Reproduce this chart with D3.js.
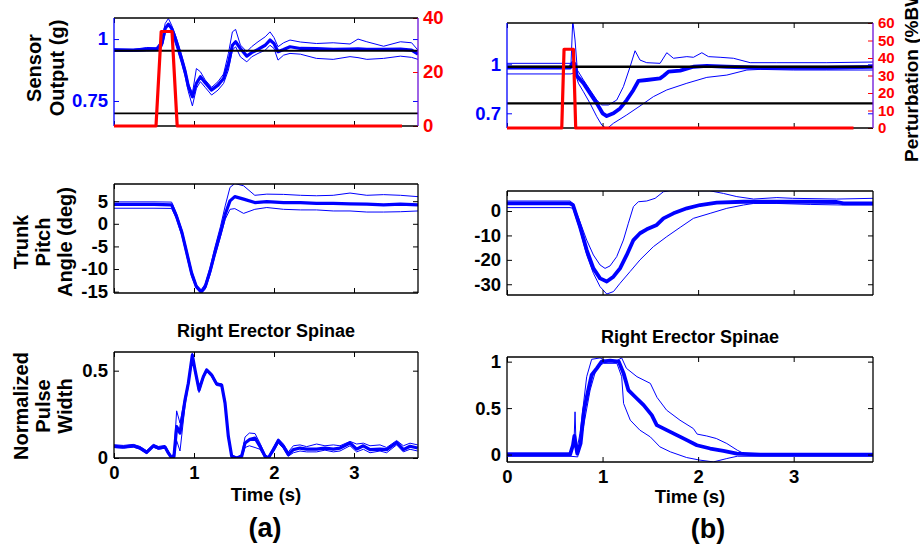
<!DOCTYPE html>
<html>
<head>
<meta charset="utf-8">
<script src="https://cdn.jsdelivr.net/npm/d3@7"></script>
<style>
  body { margin: 0; background: #fff; }
  svg { display: block; font-family: "Liberation Sans", Arial, sans-serif; font-weight: bold; }
</style>
</head>
<body>
<svg id="fig" width="920" height="547"></svg>
<script>
/* ---- data ---- */
const xTicks = [0, 1, 2, 3];

// (a) sensor output, g
const a1Time = [0, 0.24, 0.41, 0.53, 0.6, 0.64, 0.68, 0.72, 0.76, 0.8, 0.85, 0.89, 0.93, 0.98, 1.03, 1.08, 1.14, 1.22, 1.3, 1.37, 1.43, 1.48, 1.52, 1.58, 1.66, 1.72, 1.8, 1.89, 1.95, 2.0, 2.05, 2.12, 2.2, 2.33, 2.53, 2.74, 2.95, 3.05, 3.16, 3.37, 3.58, 3.72, 3.8];
const a1Mean = [0.955, 0.955, 0.958, 0.958, 0.982, 1.043, 1.06, 1.043, 1.009, 0.969, 0.915, 0.868, 0.808, 0.767, 0.821, 0.848, 0.824, 0.794, 0.814, 0.841, 0.902, 0.975, 0.989, 0.962, 0.931, 0.945, 0.958, 0.975, 0.996, 0.982, 0.949, 0.958, 0.969, 0.962, 0.961, 0.958, 0.959, 0.96, 0.958, 0.958, 0.959, 0.955, 0.939];
const a1Upper = [0.961, 0.958, 0.966, 0.965, 0.996, 1.063, 1.083, 1.056, 1.023, 0.982, 0.929, 0.881, 0.821, 0.781, 0.881, 0.868, 0.835, 0.805, 0.828, 0.859, 0.942, 1.029, 1.039, 0.976, 0.949, 0.969, 0.989, 1.009, 1.029, 1.006, 0.969, 0.985, 0.996, 0.988, 0.982, 0.985, 0.98, 1.0, 0.989, 0.971, 0.989, 0.985, 0.955];
const a1Lower = [0.95, 0.95, 0.952, 0.953, 0.969, 1.023, 1.036, 1.023, 0.989, 0.949, 0.895, 0.848, 0.787, 0.73, 0.801, 0.828, 0.805, 0.774, 0.794, 0.821, 0.875, 0.955, 0.969, 0.928, 0.908, 0.928, 0.942, 0.955, 0.975, 0.962, 0.915, 0.935, 0.942, 0.939, 0.922, 0.918, 0.929, 0.925, 0.918, 0.922, 0.931, 0.926, 0.918];
const a1RefLines = [0.953, 0.70];
const a1PertTime = [0, 0.525, 0.59, 0.725, 0.79, 3.6];
const a1Pert = [0, 0, 35, 35, 0, 0];

// (b) sensor output, g  ([time, value] pairs)
const b1Mean = [[0, 0.98], [0.66, 0.98], [0.69, 1.01], [0.71, 1.0], [0.73, 0.93], [0.8, 0.884], [0.87, 0.822], [0.94, 0.761], [1.0, 0.7], [1.044, 0.683], [1.114, 0.7], [1.183, 0.73], [1.253, 0.781], [1.323, 0.843], [1.375, 0.898], [1.462, 0.904], [1.602, 0.914], [1.64, 0.93], [1.69, 0.955], [1.812, 0.961], [1.951, 0.985], [2.091, 0.99], [2.3, 0.985], [2.65, 0.979], [3.0, 0.979], [3.347, 0.979], [3.836, 0.985]];
const b1Upper = [[0, 1.006], [0.67, 1.006], [0.688, 1.27], [0.712, 1.149], [0.736, 0.965], [0.8, 0.904], [0.869, 0.843], [0.94, 0.781], [0.992, 0.751], [1.061, 0.751], [1.148, 0.781], [1.218, 0.863], [1.288, 0.985], [1.34, 1.083], [1.392, 1.026], [1.462, 1.01], [1.602, 1.006], [1.672, 1.071], [1.742, 1.037], [1.882, 1.047], [1.951, 1.043], [2.039, 1.071], [2.108, 1.047], [2.23, 1.043], [2.37, 1.037], [2.545, 1.01], [2.824, 1.01], [3.347, 1.01], [3.836, 1.014]];
const b1Lower = [[0, 0.941], [0.67, 0.941], [0.712, 0.95], [0.747, 0.884], [0.8, 0.832], [0.869, 0.761], [0.94, 0.679], [0.992, 0.628], [1.044, 0.605], [1.114, 0.639], [1.253, 0.69], [1.392, 0.745], [1.532, 0.802], [1.672, 0.843], [1.882, 0.884], [2.091, 0.92], [2.3, 0.934], [2.51, 0.965], [2.65, 0.969], [3.0, 0.965], [3.347, 0.965], [3.836, 0.965]];
const b1RefLines = [0.985, 0.761];
const b1PertTime = [0, 0.573, 0.597, 0.695, 0.719, 3.626];
const b1Pert = [0, 0, 45, 45, 0, 0];

// (a) trunk pitch angle, deg
const a2Time = [0, 0.5, 0.72, 0.78, 0.85, 0.91, 0.97, 1.03, 1.09, 1.14, 1.2, 1.26, 1.33, 1.39, 1.45, 1.51, 1.62, 1.76, 1.91, 2.12, 2.33, 2.53, 2.74, 2.95, 3.16, 3.37, 3.58, 3.8];
const a2Mean = [4.3, 4.3, 4.2, 1.73, -2.0, -6.45, -10.9, -13.9, -15.1, -13.9, -10.5, -6.45, -2.0, 2.1, 5.07, 6.0, 5.45, 4.7, 4.9, 4.7, 4.7, 4.5, 4.5, 4.4, 4.35, 4.2, 4.35, 4.2];
const a2Upper = [4.85, 4.85, 4.8, 2.3, -1.4, -5.85, -10.3, -13.5, -14.6, -13.3, -9.8, -5.3, -0.65, 3.96, 8.05, 8.9, 8.4, 6.3, 6.56, 6.5, 6.3, 6.2, 6.3, 6.8, 6.3, 6.45, 6.3, 6.0];
const a2Lower = [3.44, 3.44, 3.4, 1.13, -2.73, -7.2, -11.65, -14.3, -15.2, -14.5, -11.3, -7.2, -2.9, 0.99, 3.2, 3.36, 2.3, 3.2, 3.6, 3.2, 3.07, 3.07, 2.84, 2.84, 2.6, 2.6, 2.67, 2.84];

// (b) trunk pitch angle, deg
const b2Mean = [[0, 3.1], [0.66, 3.1], [0.69, 2.5], [0.764, -6.4], [0.834, -16], [0.904, -23.5], [0.974, -27.6], [1.044, -28.9], [1.114, -26.9], [1.183, -23.5], [1.253, -18], [1.323, -11.9], [1.392, -9.1], [1.462, -7.5], [1.567, -5.7], [1.637, -3.0], [1.742, -0.95], [1.882, 1.1], [2.021, 2.46], [2.195, 3.4], [2.474, 3.8], [2.824, 3.8], [3.173, 3.8], [3.452, 3.7], [3.52, 3.1], [3.836, 3.1]];
const b2Upper = [[0, 4.1], [0.66, 4.1], [0.69, 3.1], [0.764, -4.4], [0.834, -11.9], [0.904, -18], [0.974, -22.1], [1.026, -23.5], [1.078, -22.5], [1.148, -18.7], [1.218, -11.9], [1.27, -5.0], [1.323, 1.8], [1.375, 3.8], [1.462, 4.1], [1.55, 5.2], [1.637, 7.9], [1.707, 8.3], [1.95, 8.3], [2.12, 8.3], [2.265, 7.2], [2.405, 5.9], [2.58, 4.9], [2.824, 5.5], [2.99, 5.2], [3.45, 4.9], [3.836, 5.2]];
const b2Lower = [[0, 1.4], [0.66, 1.4], [0.69, 1.1], [0.764, -7.8], [0.834, -18], [0.904, -25.5], [0.974, -31], [1.044, -34], [1.114, -33], [1.183, -29.6], [1.288, -24.8], [1.392, -20], [1.532, -14.6], [1.672, -10.5], [1.812, -6.7], [1.951, -3.0], [2.126, -0.95], [2.3, 1.1], [2.474, 2.46], [2.58, 3.1], [2.824, 3.1], [3.173, 2.7], [3.52, 2.46], [3.836, 2.46]];

// (a) right erector spinae, normalized pulse width
const a3Time = [0, 0.117, 0.242, 0.325, 0.408, 0.492, 0.554, 0.638, 0.679, 0.721, 0.75, 0.783, 0.825, 0.888, 0.929, 0.979, 1.013, 1.063, 1.117, 1.158, 1.221, 1.283, 1.346, 1.388, 1.429, 1.471, 1.533, 1.596, 1.638, 1.692, 1.763, 1.825, 1.888, 1.929, 1.992, 2.054, 2.117, 2.179, 2.242, 2.325, 2.408, 2.533, 2.637, 2.742, 2.825, 2.95, 3.033, 3.117, 3.2, 3.325, 3.408, 3.533, 3.617, 3.7, 3.796];
const a3Mean = [0.067, 0.063, 0.07, 0.057, 0.032, 0.07, 0.057, 0.063, 0.029, 0, 0.01, 0.18, 0.143, 0.333, 0.428, 0.589, 0.504, 0.39, 0.466, 0.504, 0.475, 0.424, 0.418, 0.314, 0.124, 0.01, 0, 0.01, 0.086, 0.105, 0.114, 0.067, 0.01, 0, 0.048, 0.1, 0.067, 0.019, 0.048, 0.057, 0.051, 0.051, 0.057, 0.051, 0.057, 0.086, 0.051, 0.07, 0.048, 0.051, 0.048, 0.089, 0.048, 0.067, 0.057];
const a3Upper = [0.076, 0.072, 0.078, 0.066, 0.042, 0.078, 0.066, 0.072, 0.04, 0.005, 0.03, 0.27, 0.2, 0.35, 0.44, 0.6, 0.515, 0.405, 0.475, 0.51, 0.485, 0.43, 0.425, 0.33, 0.14, 0.02, 0.003, 0.02, 0.12, 0.143, 0.14, 0.085, 0.02, 0.005, 0.06, 0.11, 0.08, 0.035, 0.07, 0.075, 0.065, 0.08, 0.07, 0.075, 0.07, 0.095, 0.08, 0.085, 0.07, 0.075, 0.06, 0.1, 0.07, 0.085, 0.075];
const a3Lower = [0.06, 0.056, 0.062, 0.05, 0.025, 0.062, 0.05, 0.056, 0.02, 0, 0, 0.1, 0.04, 0.3, 0.41, 0.57, 0.49, 0.375, 0.455, 0.495, 0.465, 0.415, 0.41, 0.3, 0.11, 0, 0, 0, 0.06, 0.07, 0.06, 0.05, 0, 0, 0.035, 0.085, 0.055, 0.01, 0.03, 0.04, 0.035, 0.035, 0.045, 0.035, 0.04, 0.07, 0.035, 0.05, 0.03, 0.04, 0.03, 0.075, 0.035, 0.05, 0.04];

// (b) right erector spinae, normalized pulse width
const b3Mean = [[0, 0], [0.66, 0], [0.69, 0.1], [0.705, 0.2], [0.736, 0.01], [0.77, 0.119], [0.806, 0.478], [0.85, 0.694], [0.886, 0.856], [0.94, 0.928], [0.99, 1.0], [1.08, 1.01], [1.17, 1.0], [1.22, 0.874], [1.27, 0.694], [1.34, 0.622], [1.43, 0.532], [1.515, 0.424], [1.567, 0.317], [1.672, 0.263], [1.777, 0.209], [1.882, 0.155], [1.987, 0.1], [2.126, 0.065], [2.265, 0.04], [2.405, 0.01], [2.65, 0], [3.0, 0], [3.84, 0]];
const b3Upper = [[0, 0.018], [0.66, 0.018], [0.7, 0.1], [0.712, 0.46], [0.725, 0.02], [0.764, 0.227], [0.834, 0.838], [0.886, 1.025], [0.974, 1.04], [1.05, 1.0], [1.13, 1.0], [1.2, 1.04], [1.25, 0.928], [1.36, 0.838], [1.5, 0.766], [1.57, 0.615], [1.67, 0.478], [1.81, 0.37], [1.95, 0.28], [1.99, 0.22], [2.09, 0.2], [2.19, 0.173], [2.3, 0.119], [2.41, 0.047], [2.48, 0.01], [3.84, 0.01]];
const b3Lower = [[0, -0.018], [0.66, -0.018], [0.74, -0.025], [0.8, 0.3], [0.87, 0.694], [0.94, 0.946], [1.01, 0.982], [1.15, 0.982], [1.2, 0.838], [1.22, 0.55], [1.29, 0.37], [1.39, 0.263], [1.5, 0.19], [1.6, 0.083], [1.71, 0.029], [1.88, -0.032], [2.02, -0.06], [2.16, -0.079], [2.3, -0.043], [2.41, -0.018], [3.84, -0.018]];

/* ---- drawing ---- */
const svg = d3.select("#fig");
const BLUE = "#0000ff", RED = "#ff0000";
const zip = (t, v) => t.map((d, i) => [d, v[i]]);
const TICK = 5;

function panel(o) {
  const x = d3.scaleLinear().domain([0, o.xMax]).range([o.x0, o.x1]);
  const y = d3.scaleLinear().domain(o.yDom).range([o.y1, o.y0]);
  svg.append("clipPath").attr("id", "clip-" + o.id)
    .append("rect").attr("x", o.x0).attr("y", o.y0)
    .attr("width", o.x1 - o.x0).attr("height", o.y1 - o.y0);
  const g = svg.append("g");
  const plot = g.append("g").attr("clip-path", `url(#clip-${o.id})`);
  const ln = d3.line().x((d) => x(d[0])).y((d) => y(d[1]));
  return { x, y, g, plot, ln, o };
}

function axes(p, opt) {
  const { x, y, g, o } = p;
  const fmt = (d) => String(d);
  // x axes (bottom, mirrored top)
  const xb = g.append("g").attr("transform", `translate(0,${o.y1})`)
    .call(d3.axisBottom(x).tickValues(xTicks).tickSizeInner(-TICK).tickSizeOuter(0)
      .tickPadding(8).tickFormat(opt.xLabels ? fmt : () => ""));
  g.append("g").attr("transform", `translate(0,${o.y0})`)
    .call(d3.axisTop(x).tickValues(xTicks).tickSizeInner(-TICK).tickSizeOuter(0).tickFormat(() => ""));
  // y axes (left, mirrored right unless a second axis)
  g.append("g").attr("transform", `translate(${o.x0},0)`).attr("color", opt.leftColor || "#000")
    .call(d3.axisLeft(y).tickValues(opt.yTicks).tickSizeInner(-TICK).tickSizeOuter(0).tickPadding(6).tickFormat(fmt));
  let y2g = null;
  if (!opt.y2) {
    g.append("g").attr("transform", `translate(${o.x1},0)`)
      .call(d3.axisRight(y).tickValues(opt.yTicks).tickSizeInner(-TICK).tickSizeOuter(0).tickFormat(() => ""));
  } else {
    g.append("g").attr("transform", `translate(${o.x1},0)`).attr("color", BLUE)
      .call(d3.axisRight(y).tickValues(opt.yTicks).tickSizeInner(-TICK).tickSizeOuter(0).tickFormat(() => ""));
    y2g = g.append("g").attr("transform", `translate(${o.x1},0)`).attr("color", RED)
      .call(d3.axisRight(opt.y2).tickValues(opt.y2Ticks).tickSizeInner(-TICK).tickSizeOuter(0).tickPadding(5).tickFormat(fmt));
  }
  g.selectAll(".domain").remove();
  g.selectAll(".tick text").attr("font-size", 18.5).attr("font-family", null).attr("font-weight", "bold");
  if (y2g && opt.y2Size) y2g.selectAll(".tick text").attr("font-size", opt.y2Size);
  g.selectAll(".tick line").attr("stroke-width", 1);
  xb.selectAll(".tick text").attr("fill", "#000");
  // spines
  const sp = (x1, y1, x2, y2, c) => g.append("line").attr("x1", x1).attr("y1", y1).attr("x2", x2).attr("y2", y2)
    .attr("stroke", c).attr("stroke-width", 1.3);
  sp(o.x0, o.y0, o.x1, o.y0, "#000");
  sp(o.x0, o.y1, o.x1, o.y1, "#000");
  sp(o.x0, o.y0, o.x0, o.y1, opt.leftColor || "#000");
  sp(o.x1, o.y0, o.x1, o.y1, opt.y2 ? "#6a10d8" : "#000");
}

function traces(p, thin, thick, wThick) {
  thin.forEach((s) => p.plot.append("path").datum(s).attr("d", p.ln)
    .attr("fill", "none").attr("stroke", BLUE).attr("stroke-width", 1).attr("stroke-linejoin", "round"));
  p.plot.append("path").datum(thick).attr("d", p.ln)
    .attr("fill", "none").attr("stroke", BLUE).attr("stroke-width", wThick).attr("stroke-linejoin", "round");
}

function refLines(p, vals, w) {
  p.plot.selectAll(null).data(vals).join("line")
    .attr("x1", p.o.x0).attr("x2", p.o.x1).attr("y1", (d) => p.y(d)).attr("y2", (d) => p.y(d))
    .attr("stroke", "#000").attr("stroke-width", (d, i) => w[i]);
}

function pert(p, y2, pts) {
  const ln = d3.line().x((d) => p.x(d[0])).y((d) => y2(d[1]));
  p.g.append("path").datum(pts).attr("d", ln).attr("fill", "none")
    .attr("stroke", RED).attr("stroke-width", 3.2).attr("stroke-linejoin", "round");
}

// ---- (a) column
const A1 = panel({ id: "a1", x0: 114, x1: 418, y0: 18, y1: 126, xMax: 3.8, yDom: [0.649, 1.085] });
const a1Y2 = d3.scaleLinear().domain([0, 40]).range([126, 18]);
traces(A1, [zip(a1Time, a1Upper), zip(a1Time, a1Lower)], zip(a1Time, a1Mean), 3.2);
refLines(A1, a1RefLines, [2, 1.6]);
axes(A1, { yTicks: [0.75, 1], leftColor: BLUE, y2: a1Y2, y2Ticks: [0, 20, 40] });
pert(A1, a1Y2, zip(a1PertTime, a1Pert));

const A2 = panel({ id: "a2", x0: 114, x1: 418, y0: 184, y1: 293, xMax: 3.8, yDom: [-15.3, 8.8] });
traces(A2, [zip(a2Time, a2Upper), zip(a2Time, a2Lower)], zip(a2Time, a2Mean), 3.2);
axes(A2, { yTicks: [-15, -10, -5, 0, 5] });

const A3 = panel({ id: "a3", x0: 114, x1: 418, y0: 352, y1: 458, xMax: 3.8, yDom: [0, 0.607] });
traces(A3, [zip(a3Time, a3Upper), zip(a3Time, a3Lower)], zip(a3Time, a3Mean), 3.2);
axes(A3, { yTicks: [0, 0.5], xLabels: true });

// ---- (b) column
const B1 = panel({ id: "b1", x0: 507, x1: 873, y0: 23, y1: 128, xMax: 3.83, yDom: [0.61, 1.253] });
const b1Y2 = d3.scaleLinear().domain([0, 60]).range([128, 23]);
traces(B1, [b1Upper, b1Lower], b1Mean, 3.8);
refLines(B1, b1RefLines, [2.6, 2.4]);
axes(B1, { yTicks: [0.7, 1], leftColor: BLUE, y2: b1Y2, y2Ticks: [0, 10, 20, 30, 40, 50, 60], y2Size: 15 });
pert(B1, b1Y2, zip(b1PertTime, b1Pert));

const B2 = panel({ id: "b2", x0: 507, x1: 873, y0: 191, y1: 295, xMax: 3.83, yDom: [-34.4, 8.2] });
traces(B2, [b2Upper, b2Lower], b2Mean, 3.8);
axes(B2, { yTicks: [-30, -20, -10, 0] });

const B3 = panel({ id: "b3", x0: 507, x1: 873, y0: 357, y1: 462, xMax: 3.83, yDom: [-0.08, 1.05] });
traces(B3, [b3Upper, b3Lower], b3Mean, 3.8);
axes(B3, { yTicks: [0, 0.5, 1], xLabels: true });

/* ---- text ---- */
function vlabel(lines, xs, cy, size) {
  lines.forEach((t, i) => svg.append("text")
    .attr("transform", `translate(${xs[i]},${cy}) rotate(-90)`)
    .attr("text-anchor", "middle").attr("dominant-baseline", "central")
    .attr("font-size", size).text(t));
}
vlabel(["Sensor", "Output (g)"], [34, 57], 68, 20);
vlabel(["Trunk", "Pitch", "Angle (deg)"], [21, 43, 65], 242, 20);
vlabel(["Normalized", "Pulse", "Width"], [21, 43, 65], 406, 20);

// the ylabel runs off the top edge in the original figure too
svg.append("text").attr("transform", "translate(911,162) rotate(-90)")
  .attr("dominant-baseline", "central").attr("font-size", 19).text("Perturbation (%BW)");

const label = (x, y, size, t) => svg.append("text").attr("x", x).attr("y", y)
  .attr("text-anchor", "middle").attr("font-size", size).text(t);
label(266, 337, 18, "Right Erector Spinae");
label(690, 343, 18, "Right Erector Spinae");
label(266, 501, 18.5, "Time (s)");
label(690, 503, 18.5, "Time (s)");
label(265, 537, 27, "(a)");
label(708, 538, 27, "(b)");
</script>
</body>
</html>
